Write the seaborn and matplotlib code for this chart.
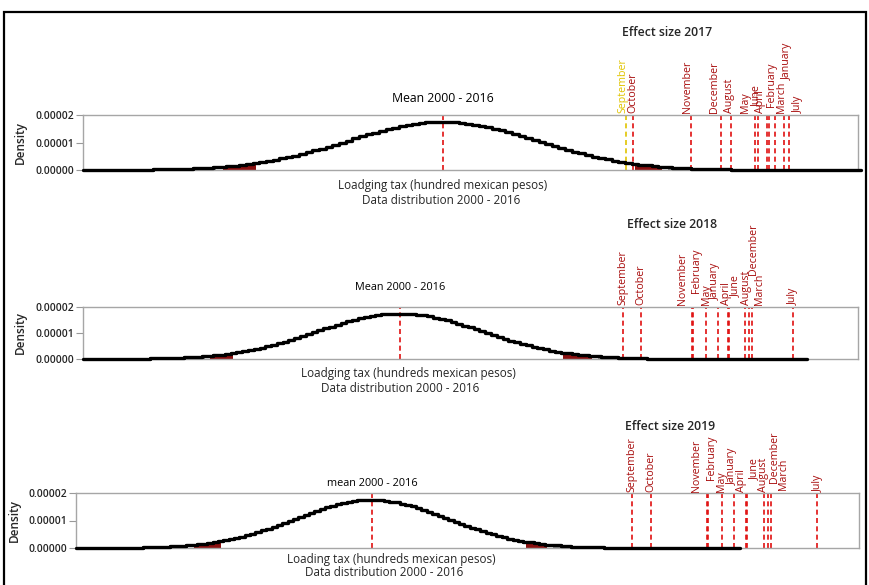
import numpy as np
import pandas as pd
import matplotlib
matplotlib.use('Agg')
import matplotlib.pyplot as plt
import seaborn as sns
from matplotlib.patches import Rectangle

# Lodging tax distribution 2000 - 2016 (hundreds of mexican pesos)
mean_base = 100000
sd_base = 22800

years = [2017, 2018, 2019]

# Monthly values for each effect-size year
months_2017 = ['September', 'October', 'November', 'December', 'August', 'May',
               'June', 'April', 'February', 'March', 'January', 'July']
tax_2017 = [143900, 145600, 159500, 166700, 169100, 174900,
            175600, 177800, 178200, 179700, 181800, 183000]

months_2018 = ['September', 'October', 'November', 'February', 'May', 'January',
               'April', 'June', 'August', 'December', 'March', 'July']
tax_2018 = [161500, 166400, 180500, 180800, 184400, 187700,
            190400, 190700, 195100, 196200, 197000, 208400]

months_2019 = ['September', 'October', 'November', 'February', 'May', 'January',
               'April', 'June', 'August', 'December', 'March', 'July']
tax_2019 = [177500, 183200, 199800, 200100, 204300, 207900,
            211500, 211800, 216800, 218000, 218900, 232600]

xlims = [(13600, 199600), (12600, 226300), (11800, 245100)]
curve_ends = [200600, 212200, 211200]

x_labels = ['Loadging tax (hundred mexican pesos)',
            'Loadging tax (hundreds mexican pesos)',
            'Loading tax (hundreds mexican pesos)']
mean_labels = ['Mean 2000 - 2016', 'Mean 2000 - 2016', 'mean 2000 - 2016']

# ---- layout (pixels of an 870x585 canvas) ----
W, H = 870, 585
axes_px = [(83, 115, 858, 170), (83, 307, 858, 359), (76, 493, 859, 548)]
title_px = [(667, 33), (672, 224), (670, 426)]
mean_dy = [17, 20, 9]
mean_size = [8.8, 7.8, 7.8]
xlabel_px = [((443, 185), (441, 201)), ((408, 373), (400, 389)), ((391, 559), (384, 573))]
ylabel_x = [-0.072, -0.072, -0.070]
# label offsets (dx, dy) in pixels, to keep crowded labels readable
label_offsets = [
    {'September': (-3, 2), 'October': (0, 2), 'November': (-3, 2), 'December': (-6, 2),
     'August': (-1, 2), 'May': (-10, 2), 'June': (-2, 8), 'April': (-7, 2),
     'February': (3, 8), 'March': (6, 2), 'January': (4, 35), 'July': (10, 2)},
    {'September': (0, 2), 'October': (0, 2), 'November': (-9, 2), 'February': (4, 14),
     'May': (0, 2), 'January': (-3, 7), 'April': (-1, 2), 'June': (7, 10),
     'August': (2, 2), 'December': (5, 32), 'March': (8, 2), 'July': (0, 2)},
    {'September': (0, 1), 'October': (0, 1), 'November': (-10, 1), 'February': (4, 13),
     'May': (-1, 1), 'January': (-2, 8), 'April': (-5, 1), 'June': (7, 13),
     'August': (-1, 1), 'December': (6, 10), 'March': (12, 3), 'July': (1, 1)},
]

sns.set_theme(style='white')
plt.rcParams['font.family'] = ['Open Sans', 'DejaVu Sans']

line_red = '#e01010'
label_red = '#a80c0c'
tail_red = '#8b1010'
tail_grey = '#8a8a8a'
gold = '#e0c400'

fig = plt.figure(figsize=(W / 100, H / 100), dpi=100)

all_months = [months_2017, months_2018, months_2019]
all_tax = [tax_2017, tax_2018, tax_2019]

for i, year in enumerate(years):
    l, t, r, b = axes_px[i]
    ax = fig.add_axes([l / W, 1 - b / H, (r - l) / W, (b - t) / H])

    grid = np.arange(xlims[i][0], curve_ends[i] + 1, 0.07 * sd_base)
    z = (grid - mean_base) / sd_base
    dens = np.exp(-0.5 * z ** 2) / (sd_base * np.sqrt(2 * np.pi))
    df = pd.DataFrame({'tax': grid, 'density': dens})

    # tails: 95% - 98% in dark red, 98% - 99% in grey
    red_mask = (np.abs(z) >= 1.96) & (np.abs(z) <= 2.33)
    grey_mask = (np.abs(z) >= 2.33) & (np.abs(z) <= 2.58)
    ax.fill_between(grid, 0, dens, where=red_mask, step='mid', color=tail_red, lw=0)
    ax.fill_between(grid, 0, dens, where=grey_mask, step='mid', color=tail_grey, lw=0)

    sns.lineplot(data=df, x='tax', y='density', ax=ax, color='black', lw=2.4,
                 drawstyle='steps-mid', clip_on=False, zorder=5)

    ax.axvline(mean_base, color=line_red, ls=(0, (3, 2)), lw=1.2)
    ax.annotate(mean_labels[i], xy=(mean_base, 1), xycoords=('data', 'axes fraction'),
                xytext=(0, mean_dy[i]), textcoords='offset pixels',
                ha='center', va='center', fontsize=mean_size[i], color='black')

    for m, v in zip(all_months[i], all_tax[i]):
        col = gold if (year == 2017 and m == 'September') else line_red
        tcol = gold if (year == 2017 and m == 'September') else label_red
        ax.axvline(v, color=col, ls=(0, (3, 2)), lw=1.2)
        dx, dy = label_offsets[i][m]
        ax.annotate(m, xy=(v, 1), xycoords=('data', 'axes fraction'),
                    xytext=(dx, dy), textcoords='offset pixels', rotation=90,
                    ha='center', va='bottom', fontsize=7.7, color=tcol)

    ax.set_xlim(*xlims[i])
    ax.set_ylim(0, 0.00002)
    ax.set_xticks([])
    ax.set_yticks([0, 0.00001, 0.00002])
    ax.set_yticklabels(['0.00000', '0.00001', '0.00002'])
    ax.tick_params(axis='y', left=True, length=5, width=0.8, color='#999999',
                   labelsize=7.5, pad=1)
    for lab in ax.get_yticklabels():
        lab.set_fontweight('semibold')
    ax.set_xlabel('')
    ax.set_ylabel('Density', fontsize=8.5, fontweight='semibold')
    ax.yaxis.set_label_coords(ylabel_x[i], 0.5)
    for s in ax.spines.values():
        s.set_color('#a6a6a6')
        s.set_linewidth(1.0)

    tx, ty = title_px[i]
    fig.text(tx / W, 1 - ty / H, f'Effect size {year}', ha='center', va='center',
             fontsize=8.8, fontweight='semibold')
    (x1, y1), (x2, y2) = xlabel_px[i]
    fig.text(x1 / W, 1 - y1 / H, x_labels[i], ha='center', va='center', fontsize=8.4)
    fig.text(x2 / W, 1 - y2 / H, 'Data distribution 2000 - 2016', ha='center',
             va='center', fontsize=8.4)

# outer frame
fig.patches.append(Rectangle((4 / W, -0.02), 862 / W, 1.02 - 12 / H,
                             transform=fig.transFigure, fill=False,
                             edgecolor='black', lw=1.6, clip_on=False))

fig.savefig('out.png', dpi=100)
